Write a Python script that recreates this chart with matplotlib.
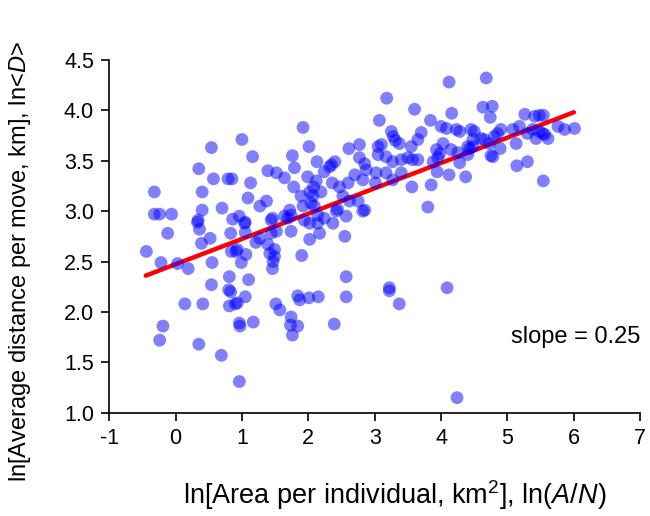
import matplotlib
matplotlib.use("Agg")
import matplotlib.pyplot as plt

plt.rcParams['font.family'] = ['Liberation Sans', 'DejaVu Sans']
plt.rcParams['mathtext.fontset'] = 'custom'
plt.rcParams['mathtext.rm'] = 'Liberation Sans'
plt.rcParams['mathtext.it'] = 'Liberation Sans:italic'

# ln(A/N) values
x_vals = [
    -0.44, -0.32, -0.32, -0.24, -0.06, -0.12, -0.22, 0.03, 0.19, -0.19, -0.24, 0.14, 0.41, 0.35,
    0.69, 0.96, 0.54, 0.81, 0.80, 0.83, 0.90, 0.93, 0.81, 0.96, 0.97, 1.17, 1.05, 1.10, 0.55,
    0.39, 0.52, 0.36, 0.33, 0.83, 0.84, 0.91, 0.93, 0.99, 1.06, 1.05, 1.04, 1.21, 1.27, 1.39,
    1.42, 1.47, 1.46, 1.44, 1.49, 1.49, 1.51, 1.57,
    0.54, 1.00, 1.16, 0.35, 0.57, 0.79, 0.85, 1.13, 1.39, 1.52, 0.40, 1.09, 1.37, 1.27, 0.70,
    0.40, 0.86, 0.96, 1.05, 0.34, 1.44, 1.46,
    1.72, 1.74, 1.69, 1.52, 1.74, 2.24, 2.37, 2.17, 2.02, 2.55,
    1.92, 3.18, 3.60, 3.07, 3.84, 4.12, 2.01, 2.61, 2.77, 3.05, 3.10, 3.25, 3.28, 3.31, 3.37,
    3.65, 3.70, 3.55, 4.00, 4.08, 3.93, 4.03, 3.88, 1.76, 2.13, 2.35, 2.40, 2.77, 2.85, 2.87,
    3.05, 3.17, 3.27, 3.40, 3.50, 3.57, 1.64, 1.79, 1.99, 2.24, 2.32, 2.12, 1.78, 2.08, 2.36,
    2.47, 2.60, 2.70, 3.02, 3.17, 3.40, 3.56, 3.85, 3.94, 2.02, 2.07, 1.89, 2.19, 2.52, 2.62,
    2.75, 2.85, 2.82, 3.01, 3.80, 1.92, 2.04, 2.09, 2.14, 2.42, 2.44, 1.64, 1.94, 2.02,
    2.57, 2.14, 1.90, 2.57, 1.84, 1.87, 2.01, 2.15, 2.57, 1.74, 1.73, 1.84, 1.76, 2.39,
    3.22, 3.22, 3.37, 4.09, 4.24,
    4.16, 4.23, 4.28, 3.98, 4.15, 4.25, 4.40, 3.65, 3.95, 4.28, 4.40, 2.82, 3.27, 4.12, 4.37,
    4.68, 4.63, 4.77, 4.74, 5.26, 5.41, 5.48, 5.54, 4.45, 4.50, 4.48, 4.60, 4.65, 4.73, 4.80,
    4.90, 4.85, 5.08, 5.18, 5.30, 5.38, 5.48, 5.56, 5.61, 5.43, 5.76, 5.86, 6.01, 5.13, 4.89,
    4.75, 4.78, 4.43, 4.48, 5.14, 5.30, 5.54, 5.53,
]
# ln<D> values
y_vals = [
    2.60, 3.19, 2.97, 2.97, 2.97, 2.78, 2.49, 2.48, 2.43, 1.86, 1.72, 2.08, 2.08, 1.68,
    1.57, 1.31, 2.27, 2.35, 2.22, 2.20, 2.08, 2.09, 2.06, 1.89, 1.86, 1.90, 2.15, 2.32, 2.49,
    2.68, 2.73, 2.82, 2.89, 2.78, 2.60, 2.60, 2.62, 2.49, 2.57, 2.79, 2.88, 2.69, 2.73, 2.67,
    2.58, 2.50, 2.43, 2.78, 2.62, 2.55, 2.08, 2.02,
    3.63, 3.71, 3.54, 3.42, 3.32, 3.32, 3.32, 3.28, 3.40, 3.38, 3.19, 3.13, 3.10, 3.05, 3.03,
    3.01, 2.92, 2.95, 2.89, 2.91, 2.91, 2.93,
    3.01, 2.96, 2.93, 2.80, 2.80, 2.93, 2.88, 2.78, 2.72, 2.75,
    3.83, 4.12, 4.01, 3.90, 3.90, 4.28, 3.64, 3.62, 3.66, 3.64, 3.66, 3.79, 3.74, 3.70, 3.67,
    3.71, 3.78, 3.64, 3.84, 3.82, 3.61, 3.67, 3.49, 3.55, 3.49, 3.46, 3.49, 3.53, 3.47, 3.41,
    3.56, 3.54, 3.49, 3.51, 3.53, 3.51, 3.33, 3.43, 3.34, 3.39, 3.44, 3.30, 3.24, 3.24, 3.28,
    3.24, 3.28, 3.36, 3.38, 3.38, 3.38, 3.24, 3.26, 3.39, 3.19, 3.15, 3.15, 3.19, 3.15, 3.10,
    3.10, 3.01, 3.00, 3.28, 3.04, 3.05, 3.08, 3.05, 2.96, 3.00, 3.02, 2.95, 2.91, 2.88,
    2.95, 2.88, 2.56, 2.35, 2.16, 2.12, 2.14, 2.15, 2.15, 1.95, 1.87, 1.86, 1.77, 1.88,
    2.24, 2.21, 2.08, 2.24, 1.15,
    3.97, 3.81, 3.79, 3.57, 3.61, 3.58, 3.64, 3.51, 3.53, 3.48, 3.56, 3.31, 3.31, 3.36, 3.34,
    4.32, 4.03, 4.04, 3.93, 3.96, 3.94, 3.95, 3.95, 3.81, 3.79, 3.71, 3.72, 3.71, 3.67, 3.74,
    3.81, 3.77, 3.81, 3.84, 3.77, 3.81, 3.79, 3.76, 3.72, 3.72, 3.84, 3.81, 3.82, 3.67, 3.62,
    3.55, 3.54, 3.62, 3.64, 3.45, 3.49, 3.30, 3.77,
]

# fitted line end points
fit_x = [-0.45, 6.0]
fit_y = [2.36, 3.98]

x_ticks = [-1, 0, 1, 2, 3, 4, 5, 6, 7]
y_ticks = [1.0, 1.5, 2.0, 2.5, 3.0, 3.5, 4.0, 4.5]

fig = plt.figure(figsize=(6.5, 5.16), dpi=100)
ax = fig.add_axes([0.168, 0.2, 0.817, 0.684])

ax.plot(fit_x, fit_y, color='red', lw=3.2, zorder=2, solid_capstyle='round')
ax.scatter(x_vals, y_vals, s=85, color='blue', alpha=0.5, edgecolors='none', zorder=3)

ax.set_xlim(-1, 7)
ax.set_ylim(1.0, 4.5)
ax.set_xticks(x_ticks)
ax.set_yticks(y_ticks)
ax.set_xticklabels([str(t) for t in x_ticks])
ax.set_yticklabels([f"{t:.1f}" for t in y_ticks])

for s in ['top', 'right']:
    ax.spines[s].set_visible(False)
for s in ['left', 'bottom']:
    ax.spines[s].set_linewidth(1.2)
ax.tick_params(direction='out', length=6, width=1.2, labelsize=15.5, pad=5)

fig.text(0.608, 0.041, r'ln[Area per individual, km$^2$], ln($\it{A}$/$\it{N}$)',
         fontsize=19.5, ha='center', va='center')
fig.text(0.031, 0.492, r'ln[Average distance per move, km], ln<$\it{D}$>',
         fontsize=17, ha='center', va='center', rotation=90)

ax.text(7.0, 1.75, 'slope = 0.25', fontsize=17, ha='right', va='center')

fig.savefig('out.png', dpi=100)
